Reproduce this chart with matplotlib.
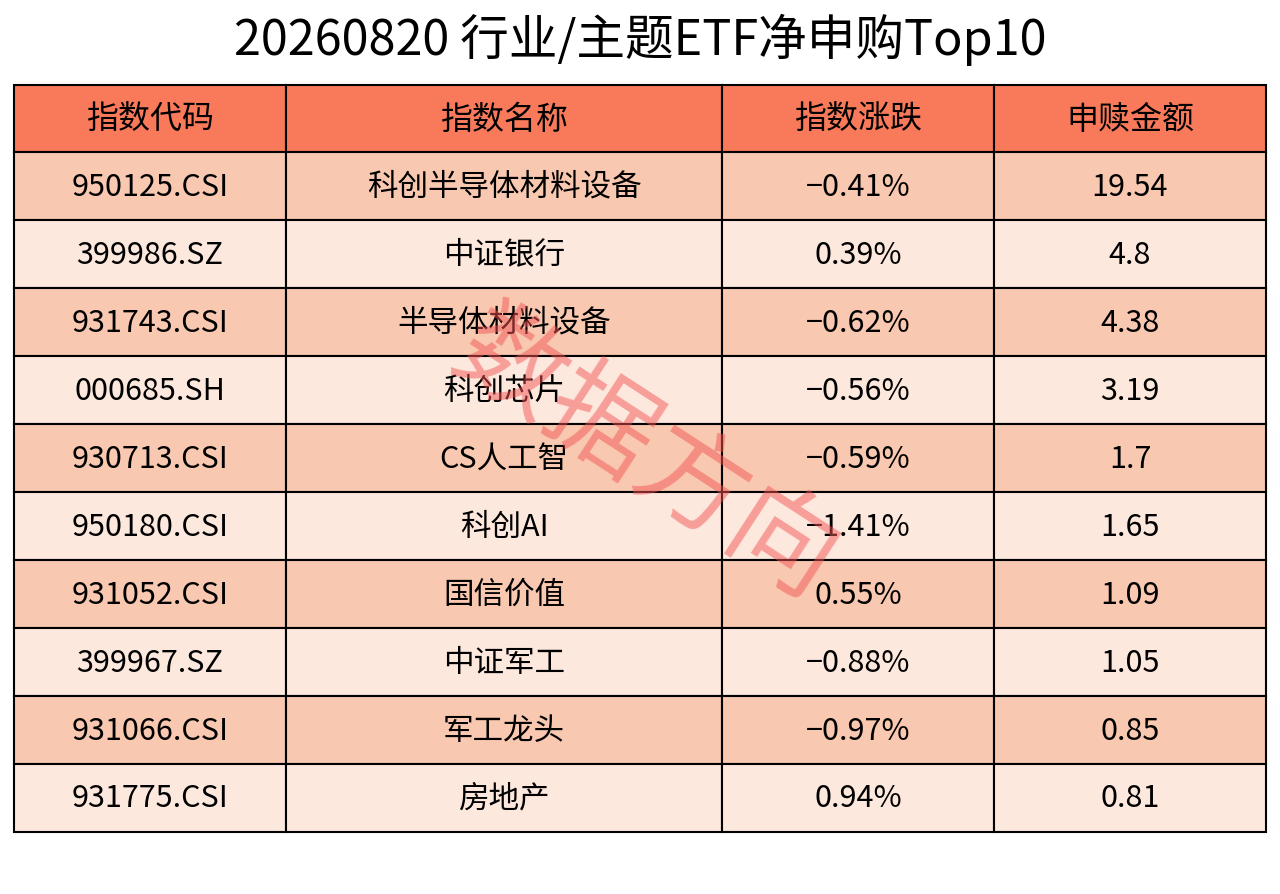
import matplotlib.pyplot as plt
from matplotlib.patches import Rectangle

plt.rcParams['font.family'] = ['Noto Sans CJK SC', 'DejaVu Sans']

title = '20260820 行业/主题ETF净申购Top10'
headers = ['指数代码', '指数名称', '指数涨跌', '申赎金额']
codes = ['950125.CSI', '399986.SZ', '931743.CSI', '000685.SH', '930713.CSI',
         '950180.CSI', '931052.CSI', '399967.SZ', '931066.CSI', '931775.CSI']
names = ['科创半导体材料设备', '中证银行', '半导体材料设备', '科创芯片', 'CS人工智',
         '科创AI', '国信价值', '中证军工', '军工龙头', '房地产']
changes = ['-0.41%', '0.39%', '-0.62%', '-0.56%', '-0.59%',
           '-1.41%', '0.55%', '-0.88%', '-0.97%', '0.94%']
amounts = ['19.54', '4.8', '4.38', '3.19', '1.7',
           '1.65', '1.09', '1.05', '0.85', '0.81']

# layout in pixels
W, H = 1280, 895
col_edges = [14, 286, 722, 994, 1266]
header_top, header_bot = 86, 153
row_h = 68

header_color = '#F97A5A'
row_colors = ['#F9C8B0', '#FDE8DE']

fig = plt.figure(figsize=(W / 100, H / 100), dpi=100)
ax = fig.add_axes([0, 0, 1, 1])
ax.set_xlim(0, W)
ax.set_ylim(H, 0)
ax.axis('off')

ax.text(W / 2, 40, title, ha='center', va='center', fontsize=35)

# header row
for j, h in enumerate(headers):
    x0, x1 = col_edges[j], col_edges[j + 1]
    ax.add_patch(Rectangle((x0, header_top), x1 - x0, header_bot - header_top,
                           facecolor=header_color, edgecolor='black', lw=1.5))
    ax.text((x0 + x1) / 2, (header_top + header_bot) / 2, h,
            ha='center', va='center', fontsize=23)

# data rows
for i in range(len(codes)):
    y0 = header_bot + i * row_h
    vals = [codes[i], names[i], changes[i].replace('-', '−'), amounts[i]]
    for j, v in enumerate(vals):
        x0, x1 = col_edges[j], col_edges[j + 1]
        ax.add_patch(Rectangle((x0, y0), x1 - x0, row_h,
                               facecolor=row_colors[i % 2], edgecolor='black', lw=1.5))
        ax.text((x0 + x1) / 2, y0 + row_h / 2, v,
                ha='center', va='center', fontsize=22)

# watermark
ax.text(645, 458, '数据方向', ha='center', va='center', fontsize=78,
        color='#F25555', alpha=0.5, rotation=-33, rotation_mode='anchor')

fig.savefig('out.png', dpi=100, facecolor='white')
